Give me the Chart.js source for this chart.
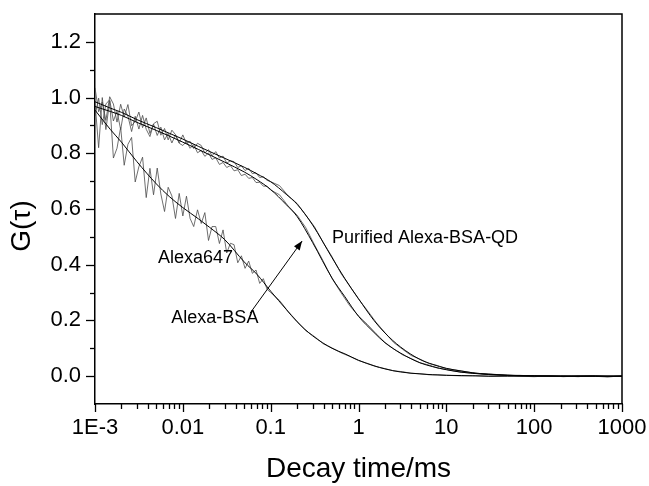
<!DOCTYPE html>
<html>
<head>
<meta charset="utf-8">
<script src="https://cdn.jsdelivr.net/npm/chart.js@4/dist/chart.umd.min.js"></script>
<style>
  html, body { margin: 0; padding: 0; background: #fff; }
  canvas { display: block; }
</style>
</head>
<body>
<canvas id="fcs" width="649" height="486"></canvas>
<script>
// DATA
// fitted curves (smooth)
const tauFit = [0.001, 0.0015, 0.002, 0.003, 0.005, 0.007, 0.01, 0.015, 0.02, 0.03, 0.05, 0.07,
    0.1, 0.15, 0.2, 0.3, 0.5, 0.7, 1, 1.5, 2, 3, 5, 7, 10, 15, 20, 30, 50, 100, 200, 500, 1000]
const fitFast = [0.955, 0.885, 0.84, 0.77, 0.69, 0.645, 0.605, 0.565, 0.535, 0.49, 0.41, 0.365,
    0.305, 0.24, 0.195, 0.145, 0.10, 0.08, 0.057, 0.037, 0.026, 0.015, 0.008, 0.005, 0.003, 0.002, 0.001, 0, 0, 0, 0, 0, 0]
const fitQd = [0.985, 0.962, 0.947, 0.921, 0.892, 0.872, 0.851, 0.825, 0.807, 0.782, 0.750, 0.726,
    0.698, 0.653, 0.617, 0.543, 0.425, 0.35, 0.278, 0.2, 0.155, 0.105, 0.060, 0.042, 0.028, 0.018, 0.012, 0.007, 0.003, 0.001, 0, 0, 0]
const fitBsa = [0.968, 0.950, 0.936, 0.911, 0.882, 0.862, 0.840, 0.814, 0.795, 0.768, 0.733, 0.705,
    0.670, 0.616, 0.573, 0.48, 0.352, 0.285, 0.215, 0.157, 0.12, 0.083, 0.048, 0.034, 0.023, 0.014, 0.010, 0.006, 0.003, 0.001, 0, 0, 0]

// measured curves (noisy)
const tauData = [
    0.001, 0.0011, 0.00121, 0.00133, 0.00147, 0.00162, 0.00178, 0.00196, 0.00215, 0.00237, 0.00261, 0.00287,
    0.00316, 0.00348, 0.00383, 0.00422, 0.00464, 0.00511, 0.00562, 0.00619, 0.00681, 0.0075, 0.00825, 0.00909,
    0.01, 0.011, 0.0121, 0.0133, 0.0147, 0.0162, 0.0178, 0.0196, 0.0215, 0.0237, 0.0261, 0.0287,
    0.0316, 0.0348, 0.0383, 0.0422, 0.0464, 0.0511, 0.0562, 0.0619, 0.0681, 0.075, 0.0825, 0.0909,
    0.1, 0.126, 0.158, 0.2, 0.251, 0.316, 0.398, 0.501, 0.631, 0.794,
    1, 1.26, 1.58, 2, 2.51, 3.16, 3.98, 5.01, 6.31, 7.94,
    10, 14.7, 21.5, 31.6, 46.4, 68.1, 100, 147, 215, 316, 464, 681, 1000]
const dataFast = [
    0.985, 0.82, 1.00, 0.885, 0.988, 0.783, 0.818, 0.893, 0.757, 0.832, 0.857, 0.697,
    0.752, 0.786, 0.641, 0.746, 0.651, 0.747, 0.654, 0.591, 0.678, 0.647, 0.566, 0.656,
    0.575, 0.646, 0.566, 0.537, 0.597, 0.548, 0.587, 0.487, 0.537, 0.537, 0.476, 0.525,
    0.442, 0.477, 0.472, 0.407, 0.432, 0.387, 0.413, 0.369, 0.381, 0.333, 0.35, 0.312,
    0.30, 0.272, 0.232, 0.197, 0.163, 0.142, 0.116, 0.101, 0.084, 0.071,
    0.056, 0.046, 0.035, 0.027, 0.019, 0.016, 0.010, 0.009, 0.005, 0.005,
    0.003, 0.001, 0.002, -0.001, 0.001, 0.0, -0.002, 0.001, -0.001, 0.0, 0.002, -0.002, 0.0]
const dataQd = [
    1.035, 0.949, 0.984, 0.918, 1.003, 0.977, 0.912, 0.976, 0.930, 0.975, 0.899, 0.914,
    0.948, 0.892, 0.927, 0.871, 0.906, 0.915, 0.865, 0.889, 0.848, 0.883, 0.867, 0.837,
    0.866, 0.835, 0.843, 0.817, 0.836, 0.828, 0.801, 0.813, 0.791, 0.806, 0.783, 0.790,
    0.765, 0.773, 0.770, 0.749, 0.755, 0.738, 0.746, 0.727, 0.730, 0.713, 0.716, 0.703,
    0.698, 0.684, 0.648, 0.620, 0.578, 0.536, 0.479, 0.428, 0.369, 0.323,
    0.277, 0.236, 0.194, 0.156, 0.121, 0.097, 0.074, 0.061, 0.046, 0.038,
    0.027, 0.019, 0.010, 0.008, 0.003, 0.003, 0.0, 0.002, -0.002, 0.001, 0.0, -0.003, 0.001]
const dataBsa = [
    0.934, 0.998, 0.903, 0.977, 0.992, 0.916, 0.951, 0.885, 0.959, 0.934, 0.878, 0.933,
    0.887, 0.936, 0.886, 0.860, 0.905, 0.864, 0.894, 0.848, 0.872, 0.837, 0.866, 0.836,
    0.828, 0.843, 0.818, 0.831, 0.802, 0.810, 0.789, 0.801, 0.778, 0.784, 0.760, 0.767,
    0.749, 0.756, 0.737, 0.741, 0.720, 0.725, 0.710, 0.713, 0.695, 0.696, 0.682, 0.682,
    0.668, 0.651, 0.611, 0.578, 0.533, 0.471, 0.412, 0.350, 0.300, 0.253,
    0.216, 0.186, 0.153, 0.121, 0.098, 0.077, 0.063, 0.048, 0.040, 0.029,
    0.024, 0.014, 0.010, 0.005, 0.004, 0.001, 0.002, -0.001, 0.001, -0.002, 0.002, -0.001, 0.0]

const yLabels = ['0.0', '0.2', '0.4', '0.6', '0.8', '1.0', '1.2']
const xLabels = { '-3': '1E-3', '-2': '0.01', '-1': '0.1', '0': '1', '1': '10', '2': '100', '3': '1000' }

const FONT = "'Liberation Sans', Arial, sans-serif"

const toPoints = (xs, ys) => xs.map((x, i) => ({ x: x, y: ys[i] }))

// frame, tick marks, labels and arrow
const decorPlugin = {
    id: 'decor',
    afterDraw(chart) {
        const ctx = chart.ctx
        const area = chart.chartArea
        const xs = chart.scales.x
        const ys = chart.scales.y
        ctx.save()
        ctx.strokeStyle = '#000'

        // top and right frame
        ctx.lineWidth = 1.5
        ctx.beginPath()
        ctx.moveTo(area.left, area.top)
        ctx.lineTo(area.right, area.top)
        ctx.lineTo(area.right, area.bottom)
        ctx.stroke()

        // x ticks (log, outward)
        ctx.lineWidth = 1.3
        for (let e = -3; e <= 3; e++) {
            for (let m = 1; m <= 9; m++) {
                if (e === 3 && m > 1) break
                const px = Math.round(xs.getPixelForValue(m * Math.pow(10, e))) + 0.5
                const len = m === 1 ? 8 : 5
                ctx.beginPath()
                ctx.moveTo(px, area.bottom)
                ctx.lineTo(px, area.bottom + len)
                ctx.stroke()
            }
        }
        // y ticks (outward)
        for (let i = 0; i <= 12; i++) {
            const py = Math.round(ys.getPixelForValue(i / 10)) + 0.5
            const len = i % 2 === 0 ? 9 : 5
            ctx.beginPath()
            ctx.moveTo(area.left, py)
            ctx.lineTo(area.left - len, py)
            ctx.stroke()
        }

        // y axis title
        ctx.fillStyle = '#000'
        ctx.font = `28px ${FONT}`
        ctx.textAlign = 'center'
        ctx.textBaseline = 'middle'
        ctx.save()
        ctx.translate(22, 226)
        ctx.rotate(-Math.PI / 2)
        ctx.fillText('G(τ)', 0, 0)
        ctx.restore()

        // curve labels
        ctx.font = `18px ${FONT}`
        ctx.textAlign = 'left'
        ctx.fillText('Alexa647', xs.getPixelForValue(0.0052), ys.getPixelForValue(0.425))
        ctx.fillText('Alexa-BSA', xs.getPixelForValue(0.0074), ys.getPixelForValue(0.209))
        ctx.fillText('Purified Alexa-BSA-QD', xs.getPixelForValue(0.5), ys.getPixelForValue(0.495))

        // arrow
        const x1 = xs.getPixelForValue(0.0583), y1 = ys.getPixelForValue(0.226)
        const x2 = xs.getPixelForValue(0.228), y2 = ys.getPixelForValue(0.485)
        ctx.lineWidth = 1
        ctx.beginPath()
        ctx.moveTo(x1, y1)
        ctx.lineTo(x2, y2)
        ctx.stroke()
        const ang = Math.atan2(y2 - y1, x2 - x1)
        ctx.beginPath()
        ctx.moveTo(x2, y2)
        ctx.lineTo(x2 - 9 * Math.cos(ang) + 3.5 * Math.sin(ang), y2 - 9 * Math.sin(ang) - 3.5 * Math.cos(ang))
        ctx.lineTo(x2 - 9 * Math.cos(ang) - 3.5 * Math.sin(ang), y2 - 9 * Math.sin(ang) + 3.5 * Math.cos(ang))
        ctx.closePath()
        ctx.fill()
        ctx.restore()
    }
}

const fitStyle = { borderColor: '#000', borderWidth: 1, pointRadius: 0, cubicInterpolationMode: 'monotone', fill: false }
const dataStyle = { borderColor: '#4a4a4a', borderWidth: 0.8, pointRadius: 0, tension: 0, fill: false }

new Chart(document.getElementById('fcs'), {
    type: 'line',
    data: {
        datasets: [
            { label: 'Alexa647 fit', data: toPoints(tauFit, fitFast), ...fitStyle },
            { label: 'Alexa-BSA fit', data: toPoints(tauFit, fitBsa), ...fitStyle },
            { label: 'Purified Alexa-BSA-QD fit', data: toPoints(tauFit, fitQd), ...fitStyle },
            { label: 'Alexa647', data: toPoints(tauData, dataFast), ...dataStyle },
            { label: 'Alexa-BSA', data: toPoints(tauData, dataBsa), ...dataStyle },
            { label: 'Purified Alexa-BSA-QD', data: toPoints(tauData, dataQd), ...dataStyle },
        ]
    },
    options: {
        responsive: false,
        animation: false,
        devicePixelRatio: 1,
        layout: {
            padding: { left: 0, top: 14, right: 27, bottom: 0 }
        },
        plugins: {
            legend: { display: false },
            tooltip: { enabled: false },
        },
        scales: {
            x: {
                type: 'logarithmic',
                min: 0.001,
                max: 1000,
                afterFit: (scale) => {
                    scale.height = 82
                    scale.paddingLeft = 0
                    scale.paddingRight = 0
                },
                grid: { display: true, drawOnChartArea: false, drawTicks: false },
                border: { display: true, color: '#000', width: 1.5 },
                ticks: {
                    autoSkip: false,
                    maxRotation: 0,
                    minRotation: 0,
                    padding: 11,
                    color: '#000',
                    font: { family: FONT, size: 22 },
                    callback: (value) => {
                        const e = Math.log10(value)
                        if (Math.abs(e - Math.round(e)) > 1e-6) return ''
                        return xLabels[String(Math.round(e))] || ''
                    }
                },
                title: {
                    display: true,
                    text: 'Decay time/ms',
                    color: '#000',
                    font: { family: FONT, size: 28, lineHeight: 1.2 },
                    padding: { top: 0, bottom: 0 }
                }
            },
            y: {
                type: 'linear',
                min: -0.1,
                max: 1.3,
                afterFit: (scale) => {
                    scale.width = 95
                    scale.paddingTop = 0
                    scale.paddingBottom = 0
                },
                grid: { display: true, drawOnChartArea: false, drawTicks: false },
                border: { display: true, color: '#000', width: 1.5 },
                ticks: {
                    stepSize: 0.1,
                    autoSkip: false,
                    padding: 14,
                    color: '#000',
                    font: { family: FONT, size: 22 },
                    callback: (value) => {
                        const k = Math.round(value * 10)
                        if (k < 0 || k % 2 !== 0) return ''
                        return yLabels[k / 2] || ''
                    }
                }
            }
        }
    },
    plugins: [decorPlugin]
})
</script>
</body>
</html>
